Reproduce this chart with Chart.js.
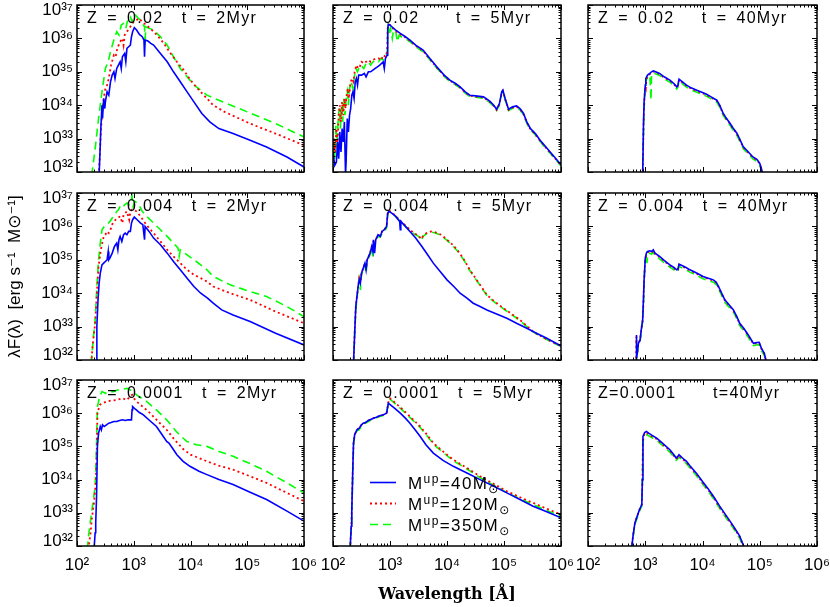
<!DOCTYPE html>
<html><head><meta charset="utf-8">
<script src="https://cdn.jsdelivr.net/npm/chart.js@4.4.0/dist/chart.umd.min.js"></script>
<style>
html,body{margin:0;padding:0;background:#fff;}
#wrap{position:relative;width:830px;height:607px;overflow:hidden;background:#fff;}
#wrap canvas{position:absolute;left:0;top:0;}
</style>
</head><body><div id="wrap"></div>
<script>
// ---------- axis ticks ----------
const wavelengthTicks = [1e2, 1e3, 1e4, 1e5, 1e6];
const fluxTicks = [1e32, 1e33, 1e34, 1e35, 1e36, 1e37];
const upperMasses = [40, 120, 350];
const panelTitles = [
  'Z = 0.02  t = 2Myr', 'Z = 0.02    t = 5Myr', 'Z = 0.02   t = 40Myr',
  'Z = 0.004  t = 2Myr', 'Z = 0.004   t = 5Myr', 'Z = 0.004  t = 40Myr',
  'Z = 0.0001  t = 2Myr', 'Z = 0.0001  t = 5Myr', 'Z=0.0001    t=40Myr'
];

// ---------- spectra as [log10 λ(Å), log10 λF(λ)] ----------
// Z = 0.02, t = 2 Myr
const z02_t2_m40 = [[2.39,31.9],[2.42,33.3],[2.44,34.0],[2.45,33.6],[2.47,34.2],[2.49,33.9],[2.50,34.1],[2.53,34.4],[2.56,34.3],[2.59,34.7],[2.62,34.9],[2.65,35.0],[2.67,34.8],[2.70,35.1],[2.73,35.2],[2.76,35.3],[2.78,35.1],[2.80,35.45],[2.84,35.55],[2.86,35.3],[2.88,35.7],[2.91,35.75],[2.94,35.8],[2.96,36.05],[2.98,36.2],[3.01,36.32],[3.05,36.25],[3.10,36.12],[3.15,36.05],[3.18,35.95],[3.19,35.45],[3.20,35.95],[3.25,35.92],[3.30,35.85],[3.35,35.8],[3.47,35.55],[3.59,35.3],[3.70,35.0],[3.82,34.7],[3.94,34.4],[4.06,34.1],[4.20,33.75],[4.34,33.5],[4.50,33.3],[4.75,33.15],[5.05,32.95],[5.34,32.75],[5.70,32.45],[6.0,32.15]];
const z02_t2_m120 = [[2.38,31.9],[2.40,32.4],[2.42,33.2],[2.44,33.7],[2.47,34.2],[2.50,34.5],[2.53,34.6],[2.56,34.8],[2.60,35.2],[2.65,35.5],[2.68,35.45],[2.71,35.7],[2.76,35.9],[2.80,36.0],[2.82,35.8],[2.84,36.1],[2.88,36.2],[2.92,36.3],[2.96,36.4],[3.0,36.5],[3.05,36.55],[3.09,36.6],[3.15,36.5],[3.22,36.4],[3.29,36.3],[3.41,36.1],[3.53,35.85],[3.65,35.55],[3.76,35.3],[3.88,35.05],[4.0,34.75],[4.15,34.45],[4.29,34.2],[4.40,34.0],[4.60,33.8],[5.05,33.45],[5.50,33.15],[6.0,32.8]];
const z02_t2_m350 = [[2.26,31.9],[2.32,32.7],[2.38,33.6],[2.44,34.4],[2.50,35.1],[2.55,35.3],[2.59,35.6],[2.64,35.9],[2.70,36.2],[2.74,36.1],[2.78,36.4],[2.82,36.45],[2.86,36.3],[2.90,36.6],[2.94,36.65],[2.97,36.5],[3.0,36.7],[3.03,36.7],[3.08,36.6],[3.12,36.55],[3.15,36.45],[3.19,36.35],[3.20,35.8],[3.21,36.35],[3.27,36.3],[3.35,36.25],[3.47,36.05],[3.59,35.8],[3.70,35.45],[3.82,35.1],[3.94,34.85],[4.06,34.6],[4.18,34.45],[4.29,34.3],[4.50,34.15],[5.0,33.8],[5.50,33.45],[6.0,33.05]];
// Z = 0.02, t = 5 Myr
const z02_t5_m40 = [[2.00,32.6],[2.03,32.2],[2.06,32.3],[2.08,32.9],[2.10,32.4],[2.12,33.2],[2.14,32.6],[2.16,33.3],[2.18,32.9],[2.20,33.5],[2.22,31.9],[2.23,32.3],[2.25,33.6],[2.27,33.2],[2.29,33.7],[2.31,33.9],[2.33,34.3],[2.35,34.4],[2.37,34.2],[2.39,34.7],[2.41,34.8],[2.43,34.6],[2.45,34.9],[2.50,34.9],[2.55,34.95],[2.58,34.85],[2.62,35.0],[2.66,35.0],[2.70,35.05],[2.74,35.1],[2.78,35.15],[2.82,35.2],[2.85,35.25],[2.88,35.3],[2.90,35.1],[2.92,35.4],[2.95,35.5],[2.96,36.3],[2.97,36.42],[3.0,36.4],[3.05,36.32],[3.10,36.25],[3.18,36.15],[3.27,36.05],[3.35,35.95],[3.45,35.8],[3.58,35.65],[3.70,35.4],[3.82,35.15],[3.95,34.9],[4.05,34.75],[4.15,34.65],[4.23,34.55],[4.32,34.4],[4.40,34.3],[4.50,34.28],[4.64,34.25],[4.75,34.12],[4.82,34.0],[4.87,33.88],[4.92,34.05],[4.96,34.4],[4.98,34.45],[5.02,34.2],[5.08,33.88],[5.15,33.95],[5.22,33.98],[5.28,33.9],[5.34,33.76],[5.40,33.5],[5.46,33.31],[5.55,33.15],[5.63,32.96],[5.72,32.78],[5.81,32.6],[5.90,32.42],[6.0,32.22]];
const z02_t5_m120 = [[2.00,32.5],[2.02,33.0],[2.04,32.6],[2.06,33.3],[2.08,32.8],[2.10,33.7],[2.12,34.0],[2.14,33.5],[2.16,34.1],[2.18,33.7],[2.20,34.2],[2.22,33.9],[2.24,34.3],[2.26,34.5],[2.28,34.2],[2.30,34.6],[2.33,34.8],[2.36,34.7],[2.38,35.0],[2.41,35.2],[2.44,35.1],[2.47,35.15],[2.50,35.3],[2.55,35.25],[2.58,35.3],[2.62,35.35],[2.66,35.3],[2.70,35.35],[2.75,35.4],[2.80,35.4],[2.85,35.35],[2.88,35.5],[2.92,35.45],[2.95,35.6],[2.96,36.3],[2.97,36.42],[3.0,36.4],[3.05,36.3],[3.10,36.22],[3.18,36.12],[3.27,36.03],[3.35,35.93],[3.45,35.78],[3.58,35.63],[3.70,35.38],[3.82,35.13],[3.95,34.88],[4.05,34.73],[4.15,34.63],[4.23,34.53],[4.32,34.38],[4.40,34.28],[4.50,34.26],[4.64,34.23],[4.75,34.1],[4.82,33.98],[4.87,33.86],[4.92,34.03],[4.96,34.38],[4.98,34.43],[5.02,34.18],[5.08,33.86],[5.15,33.93],[5.22,33.96],[5.28,33.88],[5.34,33.74],[5.40,33.48],[5.46,33.29],[5.55,33.13],[5.63,32.94],[5.72,32.76],[5.81,32.58],[5.90,32.4],[6.0,32.2]];
const z02_t5_m350 = [[2.00,32.0],[2.01,32.8],[2.03,32.4],[2.05,33.4],[2.07,32.7],[2.09,33.6],[2.11,33.9],[2.13,33.3],[2.15,34.0],[2.17,33.5],[2.19,34.2],[2.21,33.7],[2.23,34.2],[2.25,34.4],[2.27,34.0],[2.29,34.5],[2.32,34.7],[2.35,34.5],[2.38,34.9],[2.40,35.1],[2.43,35.0],[2.46,35.15],[2.49,35.2],[2.54,35.1],[2.58,35.25],[2.62,35.3],[2.66,35.2],[2.70,35.3],[2.75,35.35],[2.80,35.3],[2.84,35.4],[2.88,35.35],[2.92,35.5],[2.95,35.55],[2.96,36.2],[2.97,36.35],[2.99,36.1],[3.01,36.3],[3.04,36.0],[3.06,36.25],[3.10,36.2],[3.13,35.9],[3.16,36.1],[3.22,36.02],[3.27,36.0],[3.35,35.9],[3.45,35.75],[3.58,35.6],[3.70,35.36],[3.82,35.11],[3.95,34.86],[4.05,34.71],[4.15,34.61],[4.23,34.51],[4.32,34.36],[4.40,34.26],[4.50,34.24],[4.64,34.21],[4.75,34.08],[4.82,33.96],[4.87,33.84],[4.92,34.01],[4.96,34.36],[4.98,34.41],[5.02,34.16],[5.08,33.84],[5.15,33.91],[5.22,33.94],[5.28,33.86],[5.34,33.72],[5.40,33.46],[5.46,33.27],[5.55,33.11],[5.63,32.92],[5.72,32.74],[5.81,32.56],[5.90,32.38],[6.0,32.18]];
// Z = 0.02, t = 40 Myr
const z02_t40_m40 = [[2.955,31.9],[2.97,33.5],[2.98,34.1],[3.0,34.6],[3.01,34.8],[3.04,34.9],[3.08,34.95],[3.11,35.0],[3.14,35.03],[3.18,35.0],[3.25,34.95],[3.33,34.85],[3.43,34.75],[3.50,34.65],[3.55,34.55],[3.57,34.6],[3.59,34.78],[3.65,34.7],[3.72,34.6],[3.80,34.52],[3.90,34.45],[4.0,34.38],[4.07,34.33],[4.15,34.25],[4.25,34.15],[4.30,34.0],[4.36,33.76],[4.42,33.6],[4.48,33.46],[4.54,33.3],[4.60,33.16],[4.66,32.95],[4.71,32.76],[4.80,32.6],[4.88,32.45],[4.95,32.38],[5.0,32.26],[5.03,32.1],[5.05,31.9]];
const z02_t40_m120 = [[2.955,31.9],[2.97,33.4],[2.98,34.0],[3.0,34.55],[3.01,34.5],[3.02,34.75],[3.04,34.88],[3.08,34.93],[3.11,34.98],[3.14,35.01],[3.18,34.98],[3.25,34.93],[3.33,34.83],[3.43,34.73],[3.50,34.63],[3.55,34.53],[3.57,34.58],[3.59,34.76],[3.65,34.68],[3.72,34.58],[3.80,34.5],[3.90,34.43],[4.0,34.36],[4.07,34.31],[4.15,34.23],[4.25,34.13],[4.30,33.98],[4.36,33.74],[4.42,33.58],[4.48,33.44],[4.54,33.28],[4.60,33.14],[4.66,32.93],[4.71,32.74],[4.80,32.58],[4.88,32.43],[4.95,32.36],[5.0,32.24],[5.03,32.08],[5.05,31.9]];
const z02_t40_m350 = [[2.955,31.9],[2.97,33.3],[2.98,33.9],[3.0,34.5],[3.01,34.7],[3.04,34.85],[3.08,34.9],[3.10,34.15],[3.11,34.9],[3.14,34.97],[3.18,34.94],[3.25,34.89],[3.33,34.79],[3.43,34.69],[3.50,34.59],[3.55,34.49],[3.57,34.54],[3.59,34.72],[3.65,34.64],[3.72,34.54],[3.80,34.46],[3.90,34.39],[4.0,34.32],[4.07,34.27],[4.15,34.19],[4.25,34.09],[4.30,33.94],[4.36,33.7],[4.42,33.54],[4.48,33.4],[4.54,33.24],[4.60,33.1],[4.66,32.89],[4.71,32.7],[4.80,32.54],[4.88,32.39],[4.95,32.32],[5.0,32.2],[5.03,32.04],[5.05,31.9]];
// Z = 0.004, t = 2 Myr
const z004_t2_m40 = [[2.34,31.9],[2.35,33.0],[2.37,33.8],[2.39,34.3],[2.41,34.6],[2.44,34.85],[2.47,34.9],[2.50,34.95],[2.53,35.0],[2.55,35.25],[2.56,35.0],[2.58,35.05],[2.62,35.2],[2.66,35.4],[2.70,35.5],[2.72,35.3],[2.74,35.6],[2.76,35.7],[2.79,35.55],[2.82,35.75],[2.85,35.8],[2.88,35.75],[2.91,35.85],[2.94,35.85],[2.96,36.1],[2.98,36.2],[3.01,36.28],[3.06,36.2],[3.12,36.1],[3.16,36.05],[3.19,35.6],[3.20,36.0],[3.27,35.85],[3.35,35.65],[3.47,35.45],[3.59,35.2],[3.70,34.95],[3.82,34.7],[3.94,34.45],[4.06,34.2],[4.18,34.0],[4.30,33.85],[4.40,33.7],[4.55,33.5],[4.75,33.35],[5.05,33.15],[5.50,32.8],[6.0,32.45]];
const z004_t2_m120 = [[2.25,31.9],[2.28,32.5],[2.32,33.1],[2.35,34.0],[2.38,34.8],[2.42,35.3],[2.47,35.7],[2.50,35.75],[2.53,35.85],[2.56,35.8],[2.59,35.9],[2.63,36.1],[2.68,36.2],[2.72,36.25],[2.76,36.3],[2.80,36.1],[2.82,36.35],[2.85,36.4],[2.88,36.45],[2.92,36.2],[2.94,36.45],[2.97,36.5],[3.0,36.5],[3.05,36.45],[3.12,36.3],[3.20,36.1],[3.27,35.95],[3.35,35.8],[3.47,35.55],[3.59,35.3],[3.70,35.1],[3.82,34.9],[3.94,34.7],[4.06,34.55],[4.18,34.45],[4.29,34.35],[4.40,34.2],[4.70,34.0],[5.05,33.8],[5.50,33.45],[6.0,33.1]];
const z004_t2_m350 = [[2.25,31.9],[2.29,32.7],[2.32,33.2],[2.35,34.2],[2.38,35.0],[2.41,35.5],[2.44,35.9],[2.48,36.0],[2.53,36.05],[2.58,36.15],[2.62,36.25],[2.65,36.3],[2.70,36.45],[2.73,36.5],[2.76,36.6],[2.80,36.55],[2.84,36.65],[2.88,36.7],[2.92,36.65],[2.95,36.75],[2.97,36.9],[2.99,36.6],[3.02,36.75],[3.06,36.7],[3.09,36.65],[3.15,36.45],[3.23,36.3],[3.35,36.1],[3.47,35.9],[3.59,35.7],[3.70,35.5],[3.78,35.35],[3.80,35.1],[3.82,35.3],[3.94,35.15],[4.06,35.0],[4.18,34.85],[4.29,34.7],[4.40,34.5],[4.70,34.25],[5.05,34.05],[5.34,33.9],[5.70,33.6],[6.0,33.3]];
// Z = 0.004, t = 5 Myr
const z004_t5_m40 = [[2.36,31.9],[2.38,32.8],[2.40,33.6],[2.42,33.9],[2.44,34.2],[2.46,34.4],[2.48,34.3],[2.50,34.6],[2.53,34.75],[2.56,34.9],[2.58,34.7],[2.60,35.0],[2.65,35.2],[2.68,35.4],[2.70,35.25],[2.71,35.6],[2.73,35.2],[2.75,35.6],[2.79,35.75],[2.83,35.7],[2.86,35.85],[2.90,35.9],[2.94,36.0],[2.96,36.4],[2.98,36.45],[3.03,36.4],[3.10,36.3],[3.17,36.15],[3.18,35.9],[3.19,36.15],[3.27,36.0],[3.35,35.85],[3.45,35.65],[3.56,35.4],[3.66,35.15],[3.76,34.9],[3.88,34.65],[4.0,34.4],[4.12,34.2],[4.23,34.0],[4.35,33.85],[4.46,33.7],[4.58,33.6],[4.70,33.5],[4.87,33.38],[5.05,33.25],[5.22,33.1],[5.40,32.95],[5.57,32.8],[5.75,32.65],[6.0,32.42]];
const z004_t5_m120 = [[2.36,31.9],[2.38,32.8],[2.40,33.6],[2.42,33.9],[2.44,34.2],[2.46,34.45],[2.48,34.35],[2.50,34.6],[2.53,34.75],[2.56,34.9],[2.58,34.75],[2.60,35.0],[2.65,35.2],[2.68,35.4],[2.71,35.55],[2.75,35.6],[2.79,35.75],[2.83,35.72],[2.86,35.85],[2.90,35.9],[2.94,36.0],[2.96,36.4],[2.98,36.48],[3.03,36.42],[3.10,36.32],[3.17,36.18],[3.27,36.03],[3.35,35.9],[3.42,35.8],[3.50,35.72],[3.55,35.62],[3.58,35.72],[3.64,35.8],[3.72,35.85],[3.80,35.82],[3.90,35.75],[4.0,35.6],[4.1,35.45],[4.2,35.25],[4.3,35.0],[4.4,34.7],[4.5,34.45],[4.6,34.2],[4.7,33.95],[4.8,33.8],[4.95,33.6],[5.1,33.42],[5.28,33.2],[5.4,33.02],[5.51,32.85],[5.63,32.73],[5.75,32.62],[5.87,32.52],[6.0,32.42]];
const z004_t5_m350 = [[2.36,31.9],[2.38,32.7],[2.40,33.5],[2.42,33.8],[2.44,34.15],[2.46,34.4],[2.48,34.1],[2.50,34.55],[2.53,34.7],[2.56,34.85],[2.58,34.6],[2.60,34.95],[2.65,35.15],[2.68,35.35],[2.70,35.1],[2.71,35.5],[2.75,35.55],[2.79,35.7],[2.83,35.68],[2.86,35.8],[2.90,35.85],[2.94,35.95],[2.96,36.35],[2.98,36.45],[3.03,36.4],[3.10,36.3],[3.17,36.16],[3.27,36.01],[3.35,35.88],[3.42,35.78],[3.50,35.7],[3.55,35.58],[3.58,35.7],[3.64,35.78],[3.72,35.83],[3.80,35.8],[3.90,35.73],[4.0,35.58],[4.1,35.43],[4.2,35.23],[4.3,34.98],[4.4,34.68],[4.5,34.43],[4.6,34.18],[4.7,33.93],[4.8,33.78],[4.95,33.58],[5.1,33.4],[5.28,33.18],[5.4,33.0],[5.51,32.84],[5.63,32.72],[5.75,32.61],[5.87,32.51],[6.0,32.41]];
// Z = 0.004, t = 40 Myr
const z004_t40_m40 = [[2.84,31.9],[2.845,32.75],[2.85,32.3],[2.86,32.2],[2.88,32.5],[2.91,32.6],[2.93,32.9],[2.955,33.2],[2.97,33.9],[2.98,34.4],[3.0,35.05],[3.02,35.2],[3.04,35.25],[3.08,35.27],[3.11,35.25],[3.14,35.3],[3.17,35.2],[3.25,35.1],[3.33,34.98],[3.43,34.85],[3.50,34.77],[3.55,34.7],[3.57,34.72],[3.59,34.87],[3.65,34.82],[3.72,34.76],[3.78,34.7],[3.88,34.62],[4.01,34.5],[4.10,34.45],[4.19,34.4],[4.24,34.33],[4.28,34.2],[4.34,33.98],[4.39,33.8],[4.46,33.66],[4.54,33.5],[4.60,33.3],[4.65,33.1],[4.72,32.95],[4.80,32.75],[4.89,32.5],[4.94,32.52],[4.99,32.53],[5.03,32.35],[5.08,32.2],[5.12,31.9]];
const z004_t40_m120 = [[2.84,31.9],[2.845,32.7],[2.85,32.3],[2.86,32.2],[2.88,32.5],[2.91,32.6],[2.93,32.9],[2.955,33.2],[2.97,33.8],[2.98,34.35],[3.0,35.0],[3.02,35.15],[3.04,35.22],[3.08,35.25],[3.11,35.22],[3.14,35.28],[3.17,35.18],[3.25,35.08],[3.33,34.96],[3.43,34.83],[3.50,34.75],[3.55,34.68],[3.57,34.7],[3.59,34.85],[3.65,34.8],[3.72,34.74],[3.78,34.68],[3.88,34.6],[4.01,34.48],[4.10,34.43],[4.19,34.38],[4.24,34.31],[4.28,34.18],[4.34,33.96],[4.39,33.78],[4.46,33.64],[4.54,33.48],[4.60,33.28],[4.65,33.08],[4.72,32.93],[4.80,32.73],[4.89,32.48],[4.94,32.5],[4.99,32.51],[5.03,32.33],[5.08,32.18],[5.12,31.9]];
const z004_t40_m350 = [[2.84,31.9],[2.85,32.2],[2.86,32.15],[2.88,32.45],[2.91,32.55],[2.93,32.85],[2.955,33.15],[2.97,33.7],[2.98,34.3],[3.0,34.95],[3.02,35.12],[3.03,34.9],[3.04,35.18],[3.08,35.2],[3.11,35.17],[3.14,35.23],[3.17,35.13],[3.25,35.03],[3.33,34.91],[3.43,34.78],[3.50,34.7],[3.55,34.63],[3.57,34.65],[3.59,34.8],[3.65,34.75],[3.72,34.69],[3.78,34.63],[3.88,34.55],[4.01,34.43],[4.10,34.38],[4.19,34.33],[4.24,34.26],[4.28,34.13],[4.34,33.91],[4.39,33.73],[4.46,33.59],[4.54,33.43],[4.60,33.23],[4.65,33.03],[4.72,32.88],[4.80,32.68],[4.89,32.43],[4.94,32.45],[4.99,32.46],[5.03,32.28],[5.08,32.13],[5.12,31.9]];
// Z = 0.0001, t = 2 Myr
const z0001_t2_m40 = [[2.30,31.9],[2.32,32.4],[2.33,32.7],[2.345,33.5],[2.36,35.0],[2.38,35.4],[2.41,35.6],[2.43,35.5],[2.45,35.65],[2.48,35.6],[2.52,35.65],[2.56,35.7],[2.60,35.72],[2.65,35.75],[2.70,35.75],[2.75,35.78],[2.80,35.8],[2.85,35.78],[2.90,35.8],[2.96,35.8],[2.97,36.1],[2.98,36.2],[3.03,36.12],[3.10,36.02],[3.17,35.95],[3.28,35.78],[3.40,35.6],[3.50,35.35],[3.58,35.15],[3.62,35.1],[3.68,34.95],[3.76,34.75],[3.87,34.55],[3.99,34.4],[4.15,34.25],[4.29,34.15],[4.50,34.0],[4.75,33.85],[5.05,33.62],[5.34,33.4],[5.70,33.05],[6.0,32.75]];
const z0001_t2_m120 = [[2.20,31.9],[2.24,32.4],[2.26,32.8],[2.30,33.3],[2.33,33.9],[2.35,35.0],[2.36,36.0],[2.40,36.25],[2.45,36.3],[2.52,36.35],[2.60,36.38],[2.70,36.4],[2.80,36.45],[2.88,36.4],[2.93,36.5],[2.97,36.55],[3.0,36.45],[3.05,36.35],[3.17,36.18],[3.29,36.0],[3.43,35.75],[3.58,35.5],[3.72,35.2],[3.87,34.92],[4.0,34.75],[4.15,34.65],[4.29,34.55],[4.50,34.42],[4.75,34.3],[5.05,34.1],[5.34,33.9],[5.70,33.6],[6.0,33.35]];
const z0001_t2_m350 = [[2.18,31.9],[2.21,32.4],[2.24,32.8],[2.28,33.3],[2.32,33.8],[2.34,34.8],[2.36,36.2],[2.40,36.5],[2.44,36.65],[2.50,36.6],[2.56,36.65],[2.64,36.65],[2.72,36.7],[2.80,36.72],[2.88,36.75],[2.94,36.7],[2.99,36.65],[3.05,36.55],[3.14,36.45],[3.23,36.35],[3.40,36.1],[3.58,35.8],[3.75,35.45],[3.93,35.15],[4.10,35.05],[4.29,35.0],[4.50,34.85],[4.75,34.7],[5.05,34.48],[5.34,34.25],[5.70,33.9],[6.0,33.6]];
// Z = 0.0001, t = 5 Myr
const z0001_t5_m40 = [[2.30,31.9],[2.32,32.6],[2.33,33.1],[2.35,34.5],[2.36,35.1],[2.38,35.35],[2.42,35.5],[2.46,35.55],[2.50,35.65],[2.53,35.7],[2.57,35.72],[2.62,35.78],[2.67,35.82],[2.71,35.85],[2.76,35.88],[2.82,35.92],[2.88,35.95],[2.94,36.0],[2.96,36.2],[2.97,36.3],[3.03,36.22],[3.10,36.12],[3.18,36.0],[3.27,35.85],[3.35,35.7],[3.44,35.5],[3.53,35.3],[3.63,35.05],[3.76,34.8],[3.93,34.58],[4.11,34.4],[4.35,34.2],[4.58,34.0],[4.82,33.8],[5.05,33.6],[5.28,33.4],[5.51,33.2],[5.75,33.03],[6.0,32.85]];
const z0001_t5_m120 = [[2.30,31.9],[2.32,32.6],[2.33,33.1],[2.35,34.5],[2.36,35.1],[2.38,35.35],[2.42,35.5],[2.46,35.55],[2.50,35.65],[2.53,35.7],[2.57,35.72],[2.62,35.78],[2.67,35.82],[2.71,35.85],[2.76,35.88],[2.82,35.92],[2.88,35.95],[2.94,36.0],[2.96,36.2],[2.98,36.4],[3.0,36.45],[3.1,36.3],[3.23,36.1],[3.38,35.85],[3.53,35.6],[3.65,35.35],[3.76,35.1],[3.93,34.85],[4.11,34.6],[4.35,34.35],[4.58,34.1],[4.82,33.87],[5.05,33.65],[5.28,33.47],[5.51,33.3],[5.75,33.12],[6.0,32.95]];
const z0001_t5_m350 = [[2.30,31.9],[2.32,32.5],[2.33,33.0],[2.35,34.4],[2.36,35.05],[2.38,35.3],[2.42,35.47],[2.46,35.5],[2.50,35.62],[2.53,35.68],[2.57,35.7],[2.62,35.75],[2.67,35.8],[2.71,35.83],[2.76,35.86],[2.82,35.9],[2.88,35.93],[2.94,35.98],[2.96,36.2],[2.98,36.38],[3.0,36.42],[3.1,36.27],[3.23,36.07],[3.38,35.82],[3.53,35.57],[3.65,35.32],[3.76,35.07],[3.93,34.82],[4.11,34.57],[4.35,34.32],[4.58,34.06],[4.82,33.83],[5.05,33.61],[5.28,33.42],[5.51,33.25],[5.75,33.07],[6.0,32.9]];
// Z = 0.0001, t = 40 Myr
const z0001_t40_m40 = [[2.76,31.9],[2.79,32.35],[2.82,32.7],[2.86,32.9],[2.90,33.1],[2.94,33.25],[2.95,34.0],[2.96,35.3],[2.99,35.42],[3.02,35.45],[3.06,35.4],[3.12,35.33],[3.20,35.25],[3.30,35.1],[3.43,34.9],[3.50,34.75],[3.54,34.65],[3.57,34.7],[3.59,34.75],[3.65,34.65],[3.72,34.55],[3.78,34.42],[3.90,34.18],[4.01,33.92],[4.10,33.72],[4.19,33.5],[4.30,33.2],[4.42,32.9],[4.54,32.6],[4.65,32.3],[4.74,31.9]];
const z0001_t40_m120 = [[2.76,31.9],[2.79,32.35],[2.82,32.7],[2.86,32.9],[2.90,33.1],[2.94,33.25],[2.95,33.95],[2.96,35.25],[2.99,35.38],[3.02,35.42],[3.06,35.37],[3.12,35.3],[3.20,35.22],[3.30,35.07],[3.43,34.87],[3.50,34.72],[3.54,34.62],[3.57,34.67],[3.59,34.72],[3.65,34.62],[3.72,34.52],[3.78,34.39],[3.90,34.15],[4.01,33.89],[4.10,33.69],[4.19,33.47],[4.30,33.17],[4.42,32.87],[4.54,32.57],[4.65,32.27],[4.74,31.9]];
const z0001_t40_m350 = [[2.76,31.9],[2.79,32.3],[2.82,32.65],[2.86,32.85],[2.90,33.05],[2.94,33.2],[2.95,33.9],[2.96,35.15],[2.99,35.3],[3.02,35.35],[3.06,35.32],[3.12,35.26],[3.20,35.18],[3.30,35.03],[3.43,34.83],[3.50,34.68],[3.54,34.58],[3.57,34.63],[3.59,34.68],[3.65,34.58],[3.72,34.48],[3.78,34.35],[3.90,34.11],[4.01,33.85],[4.10,33.65],[4.19,33.43],[4.30,33.13],[4.42,32.83],[4.54,32.53],[4.65,32.23],[4.73,31.9]];

const panelSeries = [
  [z02_t2_m40, z02_t2_m120, z02_t2_m350], [z02_t5_m40, z02_t5_m120, z02_t5_m350], [z02_t40_m40, z02_t40_m120, z02_t40_m350],
  [z004_t2_m40, z004_t2_m120, z004_t2_m350], [z004_t5_m40, z004_t5_m120, z004_t5_m350], [z004_t40_m40, z004_t40_m120, z004_t40_m350],
  [z0001_t2_m40, z0001_t2_m120, z0001_t2_m350], [z0001_t5_m40, z0001_t5_m120, z0001_t5_m350], [z0001_t40_m40, z0001_t40_m120, z0001_t40_m350]
];

// ---------- layout & styles ----------
const W = 830, H = 607;
const colLeft = [77, 333, 588], colRight = [304, 561, 817];
const rowTop = [5, 193, 380], rowBottom = [172, 360, 546];
const lineColors = ['#0000ff', '#ff0000', '#00ff00'];
const lineDashes = [[], [2, 3], [8, 5]];
const lineWidths = [1.6, 1.8, 1.6];
const SANS = '"Liberation Sans", "DejaVu Sans", sans-serif';
const SUP = '⁰¹²³⁴⁵⁶⁷⁸⁹';
const powLabel = v => '10' + String(Math.round(Math.log10(v))).split('').map(d => SUP[+d]).join('');
const isEdgeFlux = v => Math.abs(Math.log10(v) - 37) < 1e-6 || Math.abs(Math.log10(v) - 32) < 1e-6;

const framePlugin = {
  id: 'sedFrame',
  afterDatasetsDraw(chart, args, opts) {
    const {ctx, chartArea: a} = chart;
    const xs = chart.scales.x, ys = chart.scales.y;
    ctx.save();
    ctx.strokeStyle = '#000';
    ctx.lineWidth = 1;
    ctx.beginPath();
    for (let i = 0; i < wavelengthTicks.length; i++) {
      const base = wavelengthTicks[i];
      for (let m = 1; m <= (i < wavelengthTicks.length - 1 ? 9 : 1); m++) {
        const px = Math.round(xs.getPixelForValue(base * m)) + 0.5;
        const len = m === 1 ? 5 : 2.5;
        ctx.moveTo(px, a.bottom); ctx.lineTo(px, a.bottom - len);
        ctx.moveTo(px, a.top); ctx.lineTo(px, a.top + len);
      }
    }
    for (let i = 0; i < fluxTicks.length; i++) {
      const base = fluxTicks[i];
      for (let m = 1; m <= (i < fluxTicks.length - 1 ? 9 : 1); m++) {
        const py = Math.round(ys.getPixelForValue(base * m)) + 0.5;
        const len = m === 1 ? 5 : 2.5;
        ctx.moveTo(a.left, py); ctx.lineTo(a.left + len, py);
        ctx.moveTo(a.right, py); ctx.lineTo(a.right - len, py);
      }
    }
    ctx.stroke();
    ctx.lineWidth = 1.5;
    ctx.strokeRect(a.left, a.top, a.right - a.left, a.bottom - a.top);
    // panel label
    ctx.fillStyle = '#000';
    ctx.font = '16px ' + SANS;
    ctx.textBaseline = 'alphabetic';
    ctx.textAlign = 'left';
    const hasSpacing = 'letterSpacing' in ctx;
    if (hasSpacing) { ctx.letterSpacing = '1.3px'; ctx.wordSpacing = '3.4px'; }
    ctx.fillText(opts.title, a.left + 10, a.top + 18);
    if (hasSpacing) { ctx.wordSpacing = '0px'; ctx.letterSpacing = '1.4px'; }
    // legend
    if (opts.legend) {
      chart.data.datasets.forEach((ds, k) => {
        const y = a.top + 102 + 21 * k;
        const x0 = a.left + 37;
        ctx.save();
        ctx.strokeStyle = ds.borderColor;
        ctx.lineWidth = ds.borderWidth;
        ctx.setLineDash(ds.borderDash);
        ctx.beginPath(); ctx.moveTo(x0, y + 0.5); ctx.lineTo(x0 + 26, y + 0.5); ctx.stroke();
        ctx.restore();
        let x = x0 + 38;
        const base = y + 6.5;
        const part = (t, size, dy) => { ctx.font = size + 'px ' + SANS; ctx.fillText(t, x, base + dy); x += ctx.measureText(t).width; };
        part('M', 17, 0);
        part('up', 12, -6);
        part('=' + upperMasses[k] + 'M', 17, 0);
        part('⊙', 12, 4);
      });
    }
    if (hasSpacing) ctx.letterSpacing = '0px';
    ctx.restore();
  }
};

const wrap = document.getElementById('wrap');
for (let p = 0; p < 9; p++) {
  const row = Math.floor(p / 3), col = p % 3;
  const cv = document.createElement('canvas');
  cv.width = W; cv.height = H;
  cv.style.width = W + 'px'; cv.style.height = H + 'px';
  wrap.appendChild(cv);
  const L = colLeft[col], R = colRight[col], T = rowTop[row], B = rowBottom[row];
  new Chart(cv, {
    type: 'line',
    data: {
      datasets: panelSeries[p].map((arr, k) => ({
        label: 'M^up=' + upperMasses[k] + 'M⊙',
        data: arr.map(pt => ({x: Math.pow(10, pt[0]), y: Math.pow(10, pt[1])})),
        borderColor: lineColors[k],
        borderWidth: lineWidths[k],
        borderDash: lineDashes[k],
        pointRadius: 0,
        fill: false,
        tension: 0
      }))
    },
    options: {
      animation: false,
      responsive: false,
      devicePixelRatio: 1,
      events: [],
      layout: {padding: {left: 0, top: T, right: W - R, bottom: 0}},
      scales: {
        x: {
          type: 'logarithmic', position: 'bottom', min: 1e2, max: 1e6,
          afterBuildTicks: s => { s.ticks = wavelengthTicks.map(v => ({value: v})); },
          afterFit: s => { s.height = H - B; s.paddingLeft = 0; s.paddingRight = 0; },
          grid: {display: false, drawTicks: false},
          border: {display: false},
          ticks: {display: row === 2, autoSkip: false, maxRotation: 0, padding: 9, color: '#000',
                  font: {family: SANS, size: 17}, callback: v => powLabel(v)},
          title: {display: row === 2 && col === 1, text: 'Wavelength [Å]', color: '#000',
                  font: {family: '"DejaVu Serif", serif', size: 16, weight: 'bold'}, padding: {top: 0, bottom: 3}}
        },
        y: {
          type: 'logarithmic', position: 'left', min: 1e32, max: 1e37,
          afterBuildTicks: s => { s.ticks = fluxTicks.map(v => ({value: v})); },
          afterFit: s => { s.width = L; s.paddingTop = 0; s.paddingBottom = 0; },
          grid: {display: false, drawTicks: false},
          border: {display: false},
          ticks: {display: col === 0, autoSkip: false, padding: 4, color: '#000',
                  font: c => ({family: SANS, size: 17, lineHeight: (c.tick && isEdgeFlux(c.tick.value)) ? '10px' : 1.2}),
                  callback: v => {
                    const lab = powLabel(v);
                    const e = Math.round(Math.log10(v));
                    return e === 37 ? ['', lab] : (e === 32 ? [lab, ''] : lab);
                  }},
          title: {display: row === 1 && col === 0, text: 'λF(λ)  [erg s⁻¹  M⊙⁻¹]', color: '#000',
                  font: {family: SANS, size: 17}, padding: {top: 5, bottom: 0}}
        }
      },
      plugins: {
        legend: {display: false},
        tooltip: {enabled: false},
        sedFrame: {title: panelTitles[p], legend: p === 7}
      }
    },
    plugins: [framePlugin]
  });
}
</script></body></html>
